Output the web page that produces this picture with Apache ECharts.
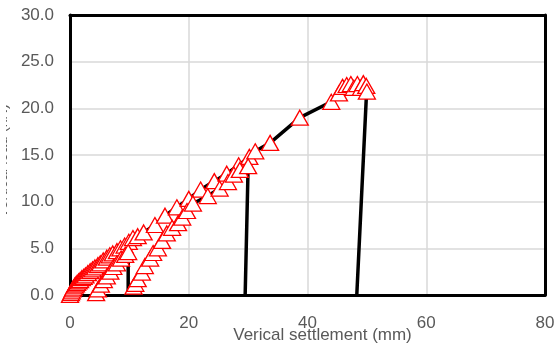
<!DOCTYPE html>
<html>
<head>
<meta charset="utf-8">
<script src="https://cdn.jsdelivr.net/npm/echarts@6/dist/echarts.min.js"></script>
<style>html,body{margin:0;padding:0;background:#fff}#c{width:557px;height:347px}</style>
</head>
<body>
<div id="c"></div>
<script>
// Virgin loading branch (settlement mm, load kN)
const upperX = [0,0.15,0.3,0.45,0.6,0.8,1.0,1.2,1.45,1.7,2.0,2.3,2.6,3.0,3.4,3.8,4.2,4.7,5.1,5.6,6.2,6.7,7.2,7.9,8.5,9.2,9.9,10.6,11.4,12.4,14.3,16.0,18.0,20.0,22.0,24.3,26.4,28.4,30.2,31.2,33.7,38.7,44.0,45.3,45.9,46.6,47.3,47.8,48.4,49.0,49.4,49.9,50.0];
const upperY = [0,0.2,0.4,0.6,0.8,1.0,1.15,1.3,1.45,1.6,1.8,1.95,2.1,2.35,2.55,2.75,2.95,3.2,3.4,3.7,4.0,4.25,4.45,4.7,5.0,5.3,5.7,6.1,6.3,6.7,7.5,8.5,9.4,10.3,11.3,12.2,13.0,13.9,14.8,15.4,16.3,19.0,20.7,21.6,22.3,22.5,22.6,22.2,22.6,22.2,22.7,22.4,21.8];
// First reloading branch
const branchBX = [4.4,4.7,5.2,5.7,6.2,6.8,7.3,7.9,8.6,9.3,9.8];
const branchBY = [0.2,0.6,1.1,1.6,2.0,2.5,3.0,3.4,3.9,4.3,4.6];
// Second reloading branch
const branchCX = [10.7,11.0,11.4,12.1,12.6,13.5,14.0,14.8,15.5,16.3,17.2,18.2,18.9,19.7,20.7,23.2,25.2,26.6,27.6,28.6,30.0];
const branchCY = [0.9,1.2,1.7,2.4,3.1,3.9,4.5,5.0,5.8,6.6,7.2,7.7,8.3,9.0,9.8,10.6,11.4,12.1,12.9,13.4,13.8];
// Unloading ends (no markers)
const unload1X = [9.8], unload1Y = [0];
const unload2X = [29.5], unload2Y = [0];
const unload3X = [49.9,48.3], unload3Y = [21.1,0];
// Axis ticks
const xTicks = {min:0, max:80, interval:20};
const yTicks = {min:0, max:30, interval:5};

const pts = (xs, ys) => xs.map((x,i)=>[x, ys[i]]);
const path1 = pts(upperX, upperY).concat(pts(unload3X, unload3Y));
const path2 = pts(branchBX, branchBY).concat(pts(unload1X, unload1Y), pts(branchCX, branchCY), pts(unload2X, unload2Y));
const markers = pts(upperX, upperY).concat(pts(branchBX, branchBY), pts(branchCX, branchCY));

const txt = {color:'#595959', fontFamily:'Liberation Sans', fontSize:17};
const frame = {show:true, onZero:false, lineStyle:{color:'#000', width:3}};
const chart = echarts.init(document.getElementById('c'), null, {renderer:'canvas'});
chart.setOption({
  animation:false,
  backgroundColor:'#fff',
  grid:{left:70, right:12, top:15, bottom:52, containLabel:false, outerBoundsMode:'none'},
  xAxis:[{type:'value', min:xTicks.min, max:xTicks.max, interval:xTicks.interval,
    name:'Verical settlement (mm)', nameLocation:'middle', nameGap:32, nameMoveOverlap:false,
    nameTextStyle:Object.assign({}, txt, {padding:[0,0,0,30]}),
    axisLine:frame, axisTick:{show:false},
    axisLabel:Object.assign({}, txt, {margin:20}),
    splitLine:{show:true, lineStyle:{color:'#d9d9d9', width:1.5}}},
   {type:'value', position:'top', min:xTicks.min, max:xTicks.max, interval:xTicks.interval,
    axisLine:frame, axisTick:{show:false}, axisLabel:{show:false}, splitLine:{show:false}}],
  yAxis:[{type:'value', min:yTicks.min, max:yTicks.max, interval:yTicks.interval,
    name:'Vertical load (kN)', nameLocation:'middle', nameGap:60, nameMoveOverlap:false,
    nameTextStyle:Object.assign({}, txt, {fontSize:15, padding:[0,12,0,0]}),
    axisLine:frame, axisTick:{show:false},
    axisLabel:Object.assign({}, txt, {margin:16, formatter:v=>v.toFixed(1)}),
    splitLine:{show:true, lineStyle:{color:'#d9d9d9', width:1.5}}},
   {type:'value', position:'right', min:yTicks.min, max:yTicks.max, interval:yTicks.interval,
    axisLine:frame, axisTick:{show:false}, axisLabel:{show:false}, splitLine:{show:false}}],
  graphic:[{type:'rect', left:0, top:0, shape:{width:6, height:347}, style:{fill:'#fff'}, z:100}],
  series:[
    {type:'line', data:path1, symbol:'none', lineStyle:{color:'#000', width:3.5}, z:2},
    {type:'line', data:path2, symbol:'none', lineStyle:{color:'#000', width:3.5}, z:2},
    {type:'scatter', data:markers, symbol:'triangle', symbolSize:[17,15],
     itemStyle:{color:'#fff', borderColor:'#ff0000', borderWidth:1.3, opacity:1}, z:3}
  ]
});
</script>
</body>
</html>
